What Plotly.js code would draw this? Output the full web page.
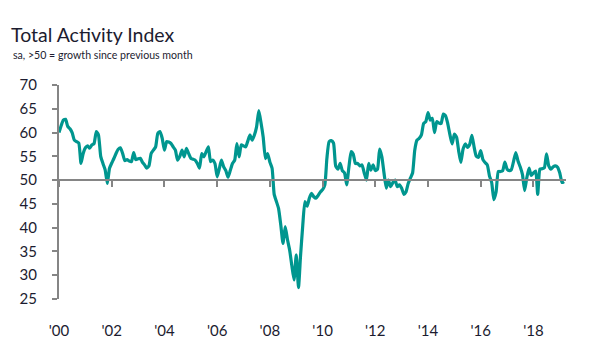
<!DOCTYPE html>
<html>
<head>
<meta charset="utf-8">
<script src="https://cdn.plot.ly/plotly-3.0.1.min.js"></script>
<style>html,body{margin:0;padding:0;background:#fff;}#chart{width:600px;height:360px;}</style>
</head>
<body>
<div id="chart"></div>
<script>
// Monthly values, Jan 2000 onward
const startYear = 2000;
const values2000 = [60.0, 61.5, 62.6, 62.8, 61.3, 60.8, 60.0, 58.4, 58.1, 57.8, 53.5, 55.6];
const values2001 = [56.8, 57.2, 56.7, 57.4, 57.7, 60.2, 59.5, 55.0, 53.5, 52.2, 49.3, 52.5];
const values2002 = [53.6, 54.6, 55.6, 56.5, 56.8, 55.6, 54.1, 54.3, 54.0, 53.9, 55.8, 54.3];
const values2003 = [54.5, 54.6, 53.8, 53.2, 52.5, 53.0, 55.6, 56.3, 57.0, 59.8, 60.2, 58.8];
const values2004 = [56.3, 58.1, 58.0, 57.7, 57.0, 56.3, 54.2, 55.0, 56.3, 54.9, 56.7, 55.6];
const values2005 = [54.6, 54.4, 54.2, 53.5, 52.5, 55.6, 54.9, 56.0, 57.0, 53.9, 54.2, 53.5];
const values2006 = [50.7, 52.5, 54.2, 52.8, 52.0, 50.6, 52.0, 53.5, 54.2, 57.7, 54.9, 57.4];
const values2007 = [57.2, 57.0, 58.2, 59.5, 58.4, 59.5, 61.2, 64.6, 62.0, 59.0, 54.5, 55.6];
const values2008 = [53.8, 52.5, 47.0, 45.5, 44.0, 40.5, 36.7, 40.2, 37.5, 35.3, 32.0, 29.0];
const values2009 = [34.3, 27.4, 34.0, 40.5, 45.5, 44.5, 46.2, 47.2, 46.5, 46.2, 46.8, 47.5];
const values2010 = [48.0, 49.0, 54.5, 58.1, 58.3, 57.8, 53.0, 52.3, 53.5, 52.0, 51.5, 49.0];
const values2011 = [52.8, 56.0, 55.5, 53.5, 53.5, 53.0, 53.2, 51.5, 50.0, 53.5, 52.1, 53.2];
const values2012 = [52.0, 52.3, 56.5, 54.9, 51.5, 48.3, 50.0, 48.6, 49.5, 50.0, 48.6, 49.0];
const values2013 = [48.3, 47.0, 47.5, 49.3, 50.4, 51.5, 56.3, 58.4, 58.8, 59.5, 61.9, 62.3];
const values2014 = [64.2, 62.6, 63.0, 60.0, 62.3, 62.0, 61.9, 63.9, 63.5, 61.9, 59.5, 57.6];
const values2015 = [59.7, 59.0, 56.2, 53.7, 56.5, 57.6, 56.9, 57.5, 59.4, 57.0, 55.0, 54.8];
const values2016 = [56.2, 54.3, 53.7, 53.2, 50.9, 49.5, 45.9, 47.5, 51.8, 51.8, 52.0, 53.8];
const values2017 = [52.3, 52.0, 52.2, 54.0, 55.8, 54.0, 52.8, 51.2, 47.8, 50.5, 52.5, 51.0];
const values2018 = [51.5, 51.9, 47.0, 52.3, 52.4, 52.6, 55.5, 53.0, 52.3, 52.8, 53.0, 52.7];
const values2019 = [51.5, 49.5, 49.7];

const tickVals = ['2000-01-01','2002-01-01','2004-01-01','2006-01-01','2008-01-01','2010-01-01','2012-01-01','2014-01-01','2016-01-01','2018-01-01'];
const tickText = ["'00","'02","'04","'06","'08","'10","'12","'14","'16","'18"];
const yTicks = [25,30,35,40,45,50,55,60,65,70];

const values = [].concat(values2000, values2001, values2002, values2003, values2004, values2005,
  values2006, values2007, values2008, values2009, values2010, values2011, values2012, values2013,
  values2014, values2015, values2016, values2017, values2018, values2019);
const dates = values.map((v, i) => {
  const y = startYear + Math.floor(i / 12);
  const m = (i % 12) + 1;
  return y + '-' + (m < 10 ? '0' + m : m) + '-01';
});

const FONT = 'Lato, "Noto Sans", sans-serif';
const TXT = '#1c1c30';
const AX = '#858585';
const xRange = ['2000-01-01', '2019-03-28'];

const traces = [
  {x: dates, y: values, xaxis: 'x', yaxis: 'y', type: 'scatter', mode: 'lines',
   line: {color: '#00968F', width: 3.2, shape: 'spline', smoothing: 0.5}, hoverinfo: 'skip'},
  {x: [dates[0]], y: [50], xaxis: 'x2', yaxis: 'y', type: 'scatter', mode: 'none', hoverinfo: 'skip', showlegend: false}
];

const layout = {
  width: 600, height: 360,
  margin: {l: 59, r: 34, t: 85, b: 61},
  paper_bgcolor: '#fff', plot_bgcolor: '#fff',
  showlegend: false,
  font: {family: FONT, color: TXT},
  title: {text: 'Total Activity Index', font: {family: FONT, size: 19.5, color: TXT},
    xref: 'container', yref: 'container', x: 11/600, xanchor: 'left', y: 1 - 35/360, yanchor: 'middle'},
  annotations: [{text: 'sa, >50 = growth since previous month', xref: 'paper', yref: 'paper',
    x: (11 - 59) / 507, xanchor: 'left', y: (299 - 55) / 214, yanchor: 'middle', showarrow: false,
    font: {family: FONT, size: 10.6, color: TXT}}],
  xaxis: {type: 'date', range: xRange, tickvals: tickVals, ticktext: tickText, ticks: '',
    showline: false, showgrid: false, zeroline: false, ticklabelstandoff: 21,
    tickfont: {family: FONT, size: 15, color: TXT}},
  xaxis2: {type: 'date', range: xRange, overlaying: 'x', anchor: 'free', position: (50 - 25) / 45,
    tickvals: tickVals, showticklabels: false, ticks: 'outside', ticklen: 6, tickwidth: 2, tickcolor: AX,
    showline: true, linecolor: AX, linewidth: 2, showgrid: false, zeroline: false},
  yaxis: {range: [25, 70], tickvals: yTicks, ticks: 'outside', ticklen: 5, tickwidth: 2, tickcolor: AX,
    showline: true, linecolor: AX, linewidth: 2, showgrid: false, zeroline: false,
    ticklabelstandoff: 12, tickfont: {family: FONT, size: 15, color: TXT}}
};

Plotly.newPlot('chart', traces, layout, {displayModeBar: false, staticPlot: true});
</script>
</body>
</html>
